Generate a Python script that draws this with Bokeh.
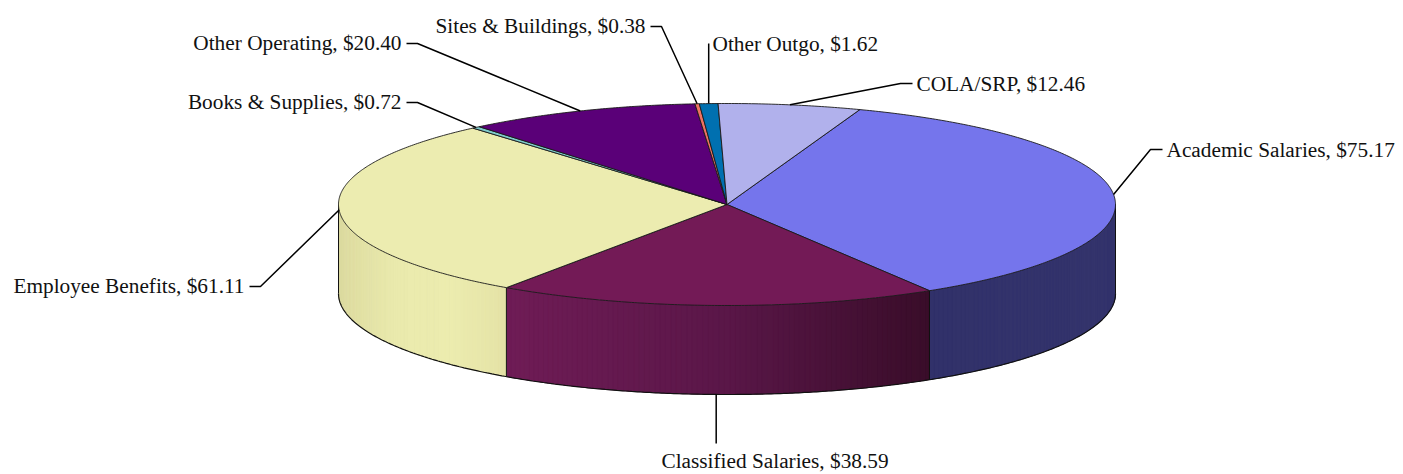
import math
import numpy as np
from bokeh.plotting import figure
from bokeh.models import Range1d
from bokeh.core.properties import value
from bokeh.embed import file_html
from bokeh.resources import INLINE

# ---------------- data ----------------
categories = ["Academic Salaries", "Classified Salaries", "Employee Benefits",
              "Books & Supplies", "Other Operating", "Sites & Buildings",
              "Other Outgo", "COLA/SRP"]
amounts = [75.17, 38.59, 61.11, 0.72, 20.40, 0.38, 1.62, 12.46]

# ---------------- style ----------------
top_colors = ["#7575EC", "#731A56", "#ECECB0", "#7FCBCB", "#5A0078",
              "#EE7262", "#0070B0", "#B1B1EC"]
side_stops = {
    0: ["#31316A", "#33336B", "#34346C"],
    1: ["#6F1C56", "#5B1749", "#390D29"],
    2: ["#DCDAA0", "#EAEAAD", "#ECECAF", "#E4E2A6"],
}

# ---------------- layout ----------------
W, H = 1403, 474
CX, CY, RX, RY, DEPTH = 726.5, 204.0, 388.5, 101.0, 89.0
START_DEG = 70.0  # first slice starts here and runs clockwise
FONT = value("Liberation Serif")
FSIZE = "21.3px"

# label layout: (kind, text_x, baseline_y)
label_layout = [
    ("left", 1166, 149),
    ("down", 774.5, 460),
    ("right", 244, 285),
    ("right", 401, 101),
    ("right", 401, 42),
    ("right", 645, 25),
    ("up", 712, 43),
    ("left", 916, 83),
]


def hex2rgb(h):
    h = h.lstrip("#")
    return np.array([int(h[i:i + 2], 16) for i in (0, 2, 4)], dtype=float)


def rgb2hex(c):
    c = np.clip(np.round(c), 0, 255).astype(int)
    return "#%02x%02x%02x" % tuple(c)


def grad(stops, f):
    cols = [hex2rgb(s) for s in stops]
    if len(cols) == 1:
        return rgb2hex(cols[0])
    pos = f * (len(cols) - 1)
    i = min(int(pos), len(cols) - 2)
    u = pos - i
    return rgb2hex(cols[i] * (1 - u) + cols[i + 1] * u)


def ex(t):
    return CX + RX * np.cos(np.radians(t))


def ey(t):
    return CY - RY * np.sin(np.radians(t))


total = float(sum(amounts))
spans = [360.0 * a / total for a in amounts]
starts, ends = [], []
cur = START_DEG
for s in spans:
    starts.append(cur)
    ends.append(cur - s)
    cur -= s

p = figure(width=W, height=H, output_backend="svg", toolbar_location=None,
           x_range=Range1d(0, W), y_range=Range1d(H, 0),
           min_border=0, border_fill_color="white", background_fill_color="white")
p.axis.visible = False
p.grid.visible = False
p.outline_line_color = None

# ---------- side walls (front half) with horizontal gradients ----------
bx, by, bc = [], [], []
sx, sy, sc = [], [], []
for i, (a0, a1) in enumerate(zip(starts, ends)):
    pts = list(np.linspace(a0, a1, max(2, int(math.ceil((a0 - a1) / 0.8)) + 1)))
    k_lo, k_hi = math.ceil(a1 / 180.0), math.floor(a0 / 180.0)
    for k in range(k_lo, k_hi + 1):
        pts.append(k * 180.0)
    pts = sorted(set(pts), reverse=True)
    strips = []
    for a, b in zip(pts[:-1], pts[1:]):
        m = 0.5 * (a + b)
        if math.sin(math.radians(m)) < 0:
            strips.append((a, b))
    if not strips:
        continue
    xs_all = [ex(a) for a, b in strips] + [ex(b) for a, b in strips]
    xmin, xmax = min(xs_all), max(xs_all)
    stops = side_stops.get(i)
    if stops is None:
        stops = [rgb2hex(hex2rgb(top_colors[i]) * 0.6)]
    ta = np.array([a for a, b in strips] + [strips[-1][1]])
    bx.append(list(ex(ta)) + list(ex(ta[::-1])))
    by.append(list(ey(ta)) + list(ey(ta[::-1]) + DEPTH))
    bc.append(grad(stops, 0.5))
    for a, b in strips:
        xa, xb = ex(a), ex(b)
        ya, yb = ey(a), ey(b)
        sx.append([xa, xb, xb, xa])
        sy.append([ya, yb, yb + DEPTH, ya + DEPTH])
        f = (0.5 * (xa + xb) - xmin) / max(1e-6, (xmax - xmin))
        sc.append(grad(stops, f))
p.patches(bx, by, fill_color=bc, line_color=None)
p.patches(sx, sy, fill_color=sc, line_color=sc, line_width=0.6)

# side outlines
tb = np.linspace(-180, 0, 400)
p.line(ex(tb), ey(tb) + DEPTH, line_color="#111111", line_width=1.2)
vert_angles = [-180.0, 0.0] + [a for a in starts if math.sin(math.radians(a)) < 0]
for a in vert_angles:
    p.line([ex(a), ex(a)], [ey(a), ey(a) + DEPTH], line_color="#111111", line_width=1)

# ---------- top face ----------
txs, tys = [], []
for a0, a1 in zip(starts, ends):
    t = np.linspace(a0, a1, max(3, int(math.ceil((a0 - a1) / 0.5)) + 1))
    txs.append([CX] + list(ex(t)))
    tys.append([CY] + list(ey(t)))
p.patches(txs, tys, fill_color=top_colors, line_color="#1a1a1a", line_width=0.9)

# ---------- leader lines & labels ----------
for i, (kind, tx, ty) in enumerate(label_layout):
    mid = 0.5 * (starts[i] + ends[i])
    ax, ay = ex(mid), ey(mid)
    text = "%s, $%.2f" % (categories[i], amounts[i])
    if kind == "left":
        lx = [ax, tx - 16, tx - 4]
        ly = [ay, ty, ty]
        align = "left"
    elif kind == "right":
        lx = [ax, tx + 16, tx + 5]
        ly = [ay, ty + 1, ty + 1]
        align = "right"
    elif kind == "up":
        lx = [ax, ax]
        ly = [ay, ty]
        align = "left"
    else:  # down from bottom edge of the wall
        ay = ay + DEPTH
        lx = [ax, ax]
        ly = [ay, ty - 17]
        align = "center"
    p.line(lx, ly, line_color="black", line_width=1.5)
    p.text(x=[tx], y=[ty], text=[text], text_font=FONT, text_font_size=FSIZE,
           text_align=align, text_baseline="alphabetic", text_color="#111111")

open("out.html", "w").write(file_html(p, INLINE))
